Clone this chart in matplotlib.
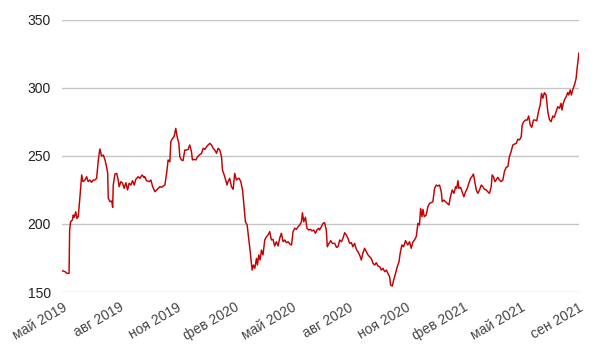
import matplotlib

matplotlib.use("Agg")
import matplotlib.pyplot as plt

# time axis: months elapsed since the start of May 2019
MONTHS = [
    0.02, 0.16, 0.26, 0.37, 0.40, 0.45, 0.54, 0.59, 0.64, 0.72, 0.78, 0.85, 0.94,
    1.03, 1.10, 1.20, 1.29, 1.37, 1.46, 1.55, 1.63, 1.72, 1.81, 1.90, 1.98,
    2.07, 2.16, 2.25, 2.33, 2.39, 2.42, 2.51, 2.60, 2.65, 2.68, 2.77, 2.86, 2.94, 2.99,
    3.08, 3.17, 3.25, 3.34, 3.43, 3.51, 3.60, 3.69, 3.78, 3.86, 3.98,
    4.07, 4.19, 4.30, 4.33, 4.42, 4.56, 4.65, 4.74, 4.86, 4.95,
    5.03, 5.12, 5.21, 5.29, 5.38, 5.47, 5.55, 5.64, 5.69, 5.78, 5.86, 5.95,
    6.02, 6.11, 6.16, 6.25, 6.33, 6.42, 6.51, 6.60, 6.68, 6.77, 6.82, 6.91,
    7.00, 7.09, 7.17, 7.30, 7.38, 7.47, 7.56, 7.64, 7.73, 7.82, 7.90, 7.99,
    8.08, 8.16, 8.25, 8.34, 8.39, 8.48, 8.56, 8.63, 8.68, 8.77, 8.86, 8.95,
    9.03, 9.12, 9.21, 9.26, 9.35, 9.44, 9.52, 9.59, 9.68, 9.77, 9.85, 9.94,
    10.01, 10.08, 10.17, 10.22, 10.29, 10.36, 10.43, 10.51, 10.60, 10.69, 10.77, 10.86, 10.95,
    11.03, 11.12, 11.21, 11.30, 11.38, 11.47, 11.56, 11.65, 11.73, 11.82, 11.91,
    12.00, 12.08, 12.17, 12.26, 12.34, 12.43, 12.52, 12.57, 12.64, 12.73, 12.81, 12.90, 12.99,
    13.07, 13.16, 13.25, 13.33, 13.42, 13.47, 13.56, 13.65, 13.73, 13.82, 13.87, 13.96,
    14.05, 14.14, 14.26, 14.35, 14.43, 14.52, 14.61, 14.69, 14.78, 14.87, 14.95,
    15.04, 15.13, 15.21, 15.30, 15.39, 15.47, 15.56, 15.65, 15.73, 15.82, 15.91,
    16.00, 16.08, 16.17, 16.26, 16.35, 16.43, 16.52, 16.61, 16.69, 16.78, 16.87, 16.96,
    17.04, 17.13, 17.18, 17.27, 17.34, 17.44, 17.53, 17.62, 17.68, 17.77, 17.86, 17.96,
    18.08, 18.17, 18.26, 18.35, 18.43, 18.52, 18.61, 18.69, 18.75, 18.82, 18.87, 18.94,
    19.04, 19.13, 19.22, 19.31, 19.39, 19.48, 19.57, 19.65, 19.74, 19.83, 19.88, 19.96,
    20.05, 20.14, 20.23, 20.31, 20.40, 20.49, 20.58, 20.64, 20.70, 20.75, 20.84, 20.92,
    21.01, 21.10, 21.19, 21.27, 21.36, 21.45, 21.51, 21.58, 21.66, 21.74, 21.83, 21.92,
    22.00, 22.09, 22.18, 22.26, 22.35, 22.44, 22.49, 22.56, 22.63, 22.70, 22.78, 22.87, 22.96,
    23.05, 23.13, 23.22, 23.31, 23.39, 23.48, 23.57, 23.66, 23.75, 23.83, 23.92,
    24.01, 24.06, 24.14, 24.23, 24.32, 24.40, 24.48, 24.56, 24.65, 24.74, 24.82, 24.91,
    25.00, 25.07, 25.14, 25.22, 25.31, 25.40, 25.48, 25.57, 25.66, 25.74, 25.83, 25.92,
    26.01, 26.09, 26.14, 26.21, 26.28, 26.36, 26.44, 26.49, 26.57, 26.63, 26.70, 26.79,
    26.88, 26.93, 26.98, 27.02,
]

PRICE = [
    165.6, 164.9, 163.7, 163.7, 195.5, 201.6, 202.8, 206.5, 204.8, 208.9, 204.0, 205.3, 220.0,
    235.9, 231.0, 232.2, 234.6, 231.0, 232.2, 230.5, 232.2, 232.2, 233.4, 246.9, 255.0,
    249.8, 250.5, 246.9, 242.0, 237.1, 218.8, 216.3, 216.8, 212.2, 228.5, 236.6, 237.1, 232.2, 227.3,
    231.0, 229.8, 226.1, 230.2, 224.9, 229.8, 228.5, 231.7, 228.5, 232.7, 234.6,
    233.4, 235.9, 233.9, 234.6, 231.7, 231.0, 232.2, 227.3, 223.6, 224.9,
    226.1, 227.3, 226.8, 227.8, 228.5, 237.1, 246.9, 245.6, 260.3, 262.8, 264.0, 270.1,
    264.0, 259.1, 249.3, 246.9, 246.4, 254.2, 254.2, 254.7, 257.9, 253.0, 246.9, 247.4,
    246.9, 249.3, 250.5, 251.8, 255.5, 254.7, 256.6, 257.9, 259.1, 257.9, 255.5, 254.2,
    251.8, 255.5, 254.2, 249.3, 239.5, 235.9, 232.2, 228.5, 231.0, 233.4, 227.3, 225.4,
    237.1, 232.2, 233.4, 233.4, 231.0, 224.9, 212.6, 201.6, 199.2, 188.2, 178.4, 166.1,
    169.8, 167.4, 174.7, 169.8, 177.2, 173.5, 180.8, 177.2, 188.2, 190.6, 191.8, 194.3, 188.2,
    188.7, 183.8, 186.9, 183.8, 189.4, 193.1, 186.9, 188.2, 186.2, 186.9, 185.2,
    184.5, 194.3, 196.8, 196.0, 197.9, 199.2, 201.6, 208.2, 201.6, 204.8, 196.8, 195.5, 196.0,
    194.8, 195.5, 193.1, 195.5, 196.8, 195.5, 197.9, 200.4, 200.9, 195.5, 183.2, 185.7,
    187.7, 185.7, 185.7, 182.8, 183.2, 188.2, 186.9, 189.4, 193.5, 191.8, 189.4,
    185.7, 186.2, 183.2, 185.7, 181.3, 179.6, 177.2, 173.5, 178.4, 182.1, 179.6,
    177.2, 175.9, 174.7, 171.1, 169.8, 171.5, 169.1, 168.6, 166.1, 167.4, 164.9, 166.1,
    163.7, 161.2, 155.1, 154.4, 158.8, 163.7, 168.6, 172.2, 178.4, 184.5, 183.2, 187.7,
    184.5, 186.9, 182.1, 186.9, 188.2, 190.6, 200.4, 199.2, 211.4, 205.3, 210.7, 205.3,
    206.5, 212.6, 215.1, 215.6, 216.3, 226.1, 228.5, 227.8, 228.5, 223.6, 216.3, 217.5,
    216.3, 215.1, 213.9, 219.9, 224.9, 222.4, 227.3, 226.1, 231.7, 226.1, 226.8, 223.6,
    219.9, 223.6, 226.1, 229.8, 233.4, 235.1, 236.6, 231.0, 224.9, 222.4, 224.9, 228.5,
    227.3, 225.4, 224.9, 223.6, 222.4, 227.3, 235.9, 234.6, 231.0, 232.2, 234.2, 232.2, 231.0,
    232.2, 238.3, 241.5, 242.0, 249.3, 253.0, 257.9, 258.6, 259.1, 262.1, 261.6,
    264.0, 272.6, 275.0, 276.2, 276.2, 279.2, 272.6, 270.9, 276.2, 276.2, 275.7, 282.3,
    287.2, 295.8, 292.2, 296.3, 294.6, 282.3, 276.7, 275.0, 279.2, 278.2, 282.3, 286.0,
    284.8, 288.5, 283.6, 288.5, 291.4, 293.4, 296.3, 294.6, 298.3, 294.6, 298.3, 301.9,
    306.8, 314.2, 319.7, 325.2,
]

TICK_MONTHS = [0, 3, 6, 9, 12, 15, 18, 21, 24, 27]
TICK_LABELS = [
    "май 2019", "авг 2019", "ноя 2019", "фев 2020", "май 2020",
    "авг 2020", "ноя 2020", "фев 2021", "май 2021", "сен 2021",
]
Y_TICKS = [150, 200, 250, 300, 350]

plt.rcParams["font.family"] = ["Liberation Sans", "DejaVu Sans"]

fig = plt.figure(figsize=(6.0, 3.49), dpi=100)
ax = fig.add_axes([0.1033, 0.1633, 0.8617, 0.7808])

ax.plot(MONTHS, PRICE, color="#c40000", linewidth=1.05, solid_joinstyle="round")

ax.set_xlim(0, 27.03)
ax.set_ylim(150, 350)
ax.set_yticks(Y_TICKS)
ax.set_xticks(TICK_MONTHS)
ax.set_xticklabels(TICK_LABELS, rotation=30, ha="right", rotation_mode="anchor",
                   fontsize=10, color="#444444")
ax.tick_params(axis="y", labelsize=10, labelcolor="#222222", length=0, pad=8)
ax.tick_params(axis="x", length=0, pad=6)

ax.grid(axis="y", color="#c6c6c6", linewidth=1.0)
ax.set_axisbelow(True)
for side in ("top", "right", "bottom", "left"):
    ax.spines[side].set_visible(False)

fig.savefig("out.png", dpi=100)
